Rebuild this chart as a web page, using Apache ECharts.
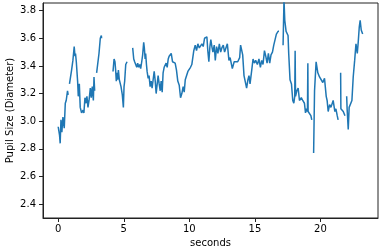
<!DOCTYPE html>
<html>
<head>
<meta charset="utf-8">
<script src="https://cdn.jsdelivr.net/npm/echarts@6/dist/echarts.min.js"></script>
<style>
  html, body { margin: 0; padding: 0; background: #fff; }
  #chart { width: 385px; height: 248px; }
</style>
</head>
<body>
<div id="chart"></div>
<script>
// time in seconds; null value = gap in recording
var seconds = [
  0.00, 0.06, 0.10, 0.15, 0.21, 0.28, 0.36, 0.46, 0.54, 0.61, 0.71, 0.76, 0.81, 0.86, 1.02, 1.12,
  1.22, 1.28, 1.32, 1.38, 1.48, 1.53, 1.61, 1.68, 1.78, 1.89, 1.96, 2.04, 2.12, 2.19, 2.27, 2.35,
  2.45, 2.52, 2.60, 2.68, 2.73, 2.78, 2.85, 2.93, 3.00, 3.11, 3.21, 3.29, 3.31, 3.70,
  4.18, 4.26, 4.33, 4.38, 4.43, 4.49, 4.53, 4.59, 4.66, 4.72, 4.79, 4.89, 4.97, 5.02, 5.07, 5.15,
  5.25, 5.45,
  5.68, 5.76, 5.83, 5.91, 5.99, 6.06, 6.14, 6.22, 6.29, 6.37, 6.44, 6.52, 6.57, 6.63, 6.67, 6.73,
  6.78, 6.86, 6.93, 7.01, 7.09, 7.16, 7.24, 7.32, 7.39, 7.47, 7.55, 7.62, 7.70, 7.78, 7.85, 7.93,
  8.00, 8.08, 8.16, 8.23, 8.31, 8.39, 8.46, 8.62, 8.72, 8.81, 8.92, 9.02, 9.12, 9.23, 9.33, 9.43,
  9.53, 9.61, 9.69, 9.79, 9.89, 9.99, 10.09, 10.19, 10.34, 10.45, 10.55, 10.65, 10.76, 10.86, 10.96, 11.06,
  11.16, 11.26, 11.34, 11.41, 11.49, 11.57, 11.64, 11.72, 11.80, 11.90, 11.98, 12.08, 12.18, 12.29, 12.39, 12.48,
  12.59, 12.69, 12.79, 12.90, 13.02, 13.11, 13.28, 13.42, 13.53, 13.69, 13.84, 13.91, 13.99, 14.07, 14.17, 14.26,
  14.37, 14.47, 14.55, 14.63, 14.76, 14.86, 14.96, 15.06, 15.19, 15.31, 15.42, 15.52, 15.62, 15.73, 15.83, 15.93,
  16.03, 16.13, 16.23, 16.34, 16.44, 16.54, 16.64, 16.77, 16.84, 17.00,
  17.15, 17.22, 17.28, 17.38, 17.47, 17.53, 17.58, 17.68, 17.79, 17.89, 17.97, 18.04, 18.07, 18.10, 18.20, 18.30,
  18.40, 18.54, 18.65, 18.78, 18.86, 18.94, 19.01, 19.04, 19.06, 19.17, 19.27, 19.34, 19.41,
  19.48, 19.55, 19.67, 19.80, 19.93, 20.05, 20.18, 20.31, 20.44, 20.51, 20.59, 20.70, 20.80, 20.89, 20.97, 21.10,
  21.18, 21.28, 21.35, 21.45,
  21.54, 21.56, 21.64, 21.74, 21.87, 21.94,
  22.00, 22.04, 22.12, 22.19, 22.30, 22.40, 22.50, 22.61, 22.71, 22.81, 22.88, 22.96, 23.03, 23.11, 23.22
];
var pupil = [
  2.96, 2.96, 2.90, 2.84, 3.01, 2.92, 3.03, 2.95, 3.13, 3.15, 3.22, 3.19, null, 3.27, 3.37, 3.44,
  3.54, 3.47, 3.49, 3.43, 3.29, 3.18, 3.27, 3.10, 3.06, 3.08, 3.06, 3.17, 3.13, 3.18, 3.10, 3.15,
  3.24, 3.17, 3.25, 3.15, 3.32, 3.22, null, 3.35, 3.36, 3.49, 3.60, 3.62, 3.60, null,
  3.36, 3.45, 3.43, 3.37, 3.29, 3.35, 3.30, 3.37, 3.30, 3.31, 3.25, 3.19, 3.10, 3.25, 3.29, 3.41,
  3.43, null,
  3.53, 3.45, 3.43, 3.42, 3.39, 3.42, 3.39, 3.41, 3.38, 3.43, 3.48, 3.57, 3.53, 3.45, 3.49, 3.41,
  3.36, 3.31, 3.33, 3.25, 3.29, 3.24, 3.30, 3.36, 3.30, 3.20, 3.27, 3.33, 3.27, 3.22, 3.29, 3.21,
  3.35, 3.39, 3.38, 3.42, 3.39, 3.45, 3.47, 3.49, 3.43, 3.44, 3.42, 3.37, 3.29, 3.26, 3.17, 3.20,
  3.25, 3.21, 3.30, 3.31, 3.36, 3.35, 3.39, 3.41, 3.51, 3.55, 3.51, 3.56, 3.53, 3.54, 3.56, 3.54,
  3.60, 3.61, 3.61, 3.51, 3.43, 3.54, 3.59, 3.54, 3.50, 3.55, 3.44, 3.54, 3.49, 3.56, 3.50, 3.53,
  3.55, 3.50, 3.53, 3.56, 3.44, 3.46, 3.38, 3.43, 3.43, 3.43, 3.46, 3.55, 3.54, 3.48, 3.33, 3.33,
  3.24, 3.30, 3.33, 3.27, 3.37, 3.45, 3.42, 3.44, 3.41, 3.45, 3.39, 3.44, 3.41, 3.51, 3.47, 3.42,
  3.49, 3.42, 3.48, 3.50, 3.55, 3.59, 3.63, 3.65, 3.65, null,
  3.55, 3.88, 3.73, 3.65, 3.64, 3.62, 3.49, 3.30, 3.27, 3.15, 3.13, 3.18, 3.51, 3.18, 3.22, 3.24,
  3.15, 3.17, 3.15, 3.13, 3.06, 3.09, 3.07, 3.42, 3.07, 3.08, 3.04, 3.01, null,
  2.77, 3.22, 3.43, 3.35, 3.32, 3.33, 3.28, 3.31, 3.18, 3.15, 3.07, 3.12, 3.10, 3.09, 3.15, 3.07,
  3.09, 3.04, 3.01, null,
  3.35, 3.09, 3.08, 3.07, 3.04, null,
  3.18, 3.08, 2.94, 3.10, 3.09, 3.15, 3.32, 3.44, 3.56, 3.49, 3.57, 3.68, 3.73, 3.66, 3.63
];
var xTicks = [0, 5, 10, 15, 20];
var yTicks = [2.4, 2.6, 2.8, 3.0, 3.2, 3.4, 3.6, 3.8];

var font = 'DejaVu Sans';
var axisText = { color: '#000', fontFamily: font, fontSize: 10 };

var lineData = seconds.map(function (t, i) {
  return [t, pupil[i] === null ? '-' : pupil[i]];
});

var option = {
  animation: false,
  grid: {
    left: 43, right: 7, top: 3, bottom: 30,
    containLabel: false,
    outerBoundsMode: 'none',
    show: true, borderColor: '#222', borderWidth: 1
  },
  xAxis: {
    type: 'value',
    min: -1.16, max: 24.39,
    name: 'seconds',
    nameLocation: 'middle',
    nameGap: 20,
    nameMoveOverlap: false,
    nameTextStyle: axisText,
    axisLine: { show: true, onZero: false, lineStyle: { color: '#222', width: 1 } },
    axisTick: { show: true, length: 4, customValues: xTicks, lineStyle: { color: '#222' } },
    axisLabel: Object.assign({ customValues: xTicks, margin: 6, formatter: function (v) { return String(v); } }, axisText),
    splitLine: { show: false }
  },
  yAxis: {
    type: 'value',
    min: 2.30, max: 3.855,
    name: 'Pupil Size (Diameter)',
    nameLocation: 'middle',
    nameGap: 28,
    nameMoveOverlap: false,
    nameTextStyle: axisText,
    axisLine: { show: true, onZero: false, lineStyle: { color: '#222', width: 1 } },
    axisTick: { show: true, length: 4, customValues: yTicks, lineStyle: { color: '#222' } },
    axisLabel: Object.assign({ customValues: yTicks, margin: 7, formatter: function (v) { return v.toFixed(1); } }, axisText),
    splitLine: { show: false }
  },
  series: [{
    type: 'line',
    data: lineData,
    showSymbol: false,
    connectNulls: false,
    clip: true,
    lineStyle: { color: '#1f77b4', width: 1.5 },
    itemStyle: { color: '#1f77b4' }
  }]
};

var myChart = echarts.init(document.getElementById('chart'));
myChart.setOption(option);
</script>
</body>
</html>
